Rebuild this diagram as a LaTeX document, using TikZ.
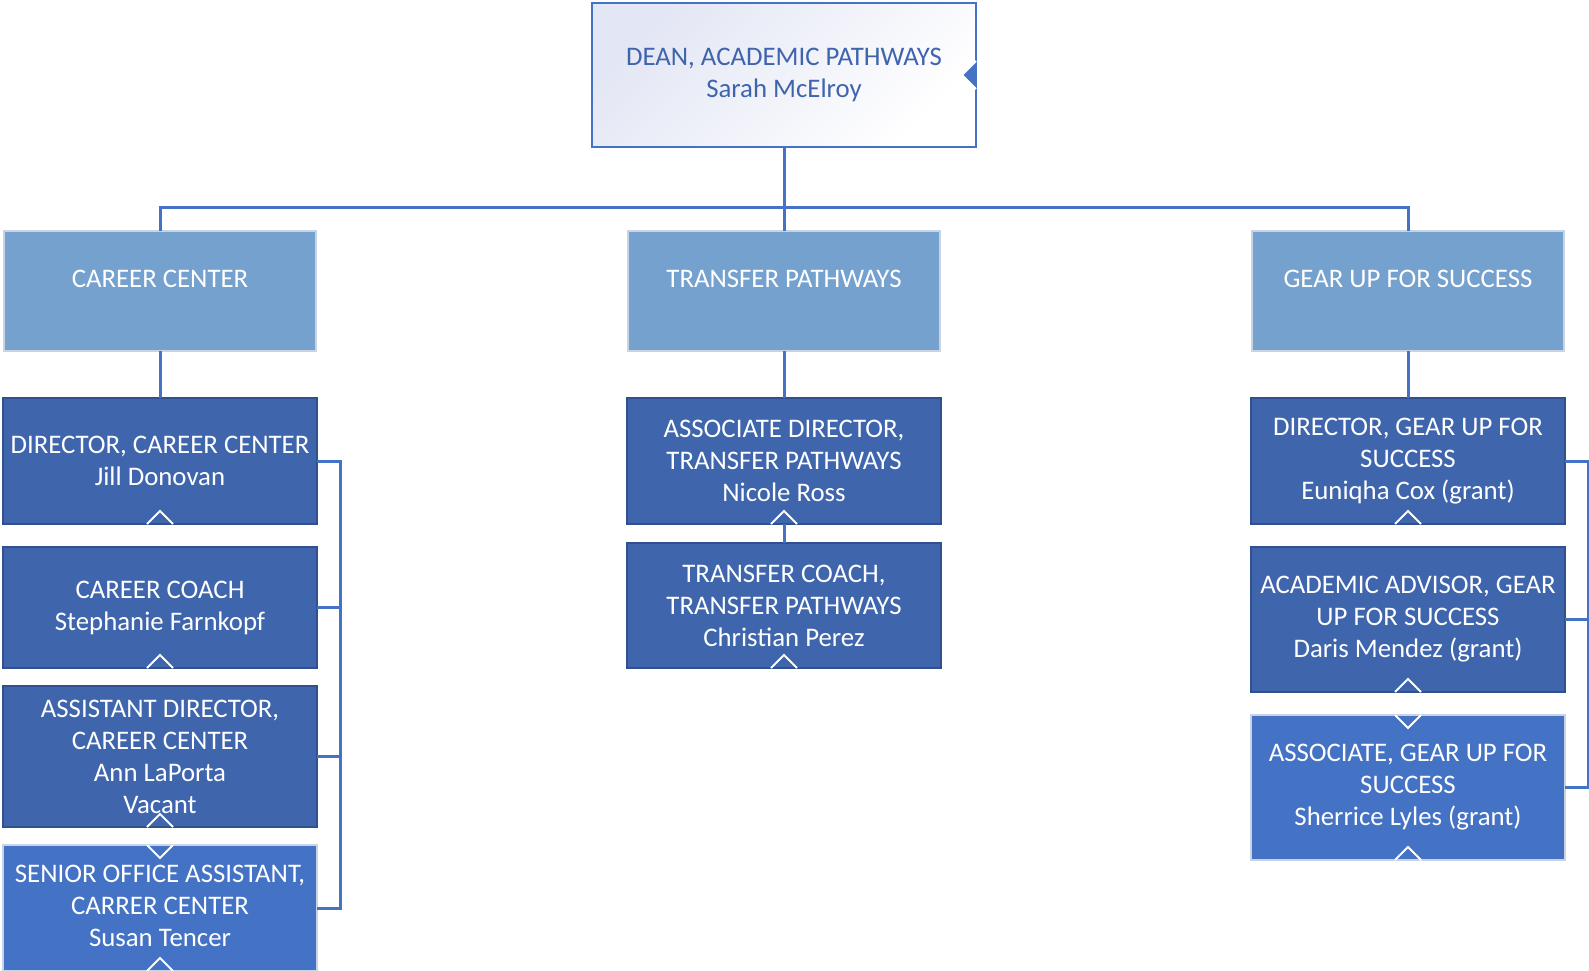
\documentclass[tikz,border=0pt]{standalone}
\usepackage{fontspec}
\setmainfont{Carlito}
\usepackage{xcolor}
\usepackage{tikz}
\usetikzlibrary{shapes,arrows,positioning}
\usetikzlibrary{calc}
\definecolor{linkblue}{HTML}{4472C4}
\definecolor{staffblue}{HTML}{3F65AD}
\definecolor{staffedge}{HTML}{2F528F}
\definecolor{headblue}{HTML}{75A1CE}
\definecolor{headedge}{HTML}{C9D3E3}
\definecolor{deanfill}{HTML}{E3E6F4}
\definecolor{deantext}{HTML}{3F64AE}
\tikzset{lift/.style={execute at end node={\rule[-#1]{0pt}{0pt}}}}
\tikzstyle{dean} = [rectangle, draw=linkblue, line width=1pt, top color=deanfill,
    bottom color=white, shading angle=45, text=deantext, align=center,
    minimum width=192pt, minimum height=72pt, outer sep=0pt]
\tikzstyle{head} = [rectangle, draw=headedge, line width=0.6pt, fill=headblue,
    text=white, align=center, minimum width=156pt, minimum height=60pt,
    outer sep=0pt, lift=12pt]
\tikzstyle{staff} = [rectangle, draw=staffedge, line width=0.6pt, fill=staffblue,
    text=white, align=center, minimum width=157pt, outer sep=0pt]
\tikzstyle{stafflight} = [staff, draw=headedge, fill=linkblue]
\tikzstyle{line} = [draw=linkblue, line width=1.5pt]
\tikzstyle{notch} = [draw=white, line width=1pt]

\begin{document}
\begin{tikzpicture}[font=\fontsize{13.4}{16}\selectfont]
        \useasboundingbox (0,0) rectangle (794.5pt,-485pt);
        % Dean and departments
        \node [dean] (dean) at (392pt,-37.5pt) {DEAN, ACADEMIC PATHWAYS\\Sarah McElroy};
        \node [head, below=42pt of dean] (tp) {TRANSFER PATHWAYS};
        \node [head, left=156pt of tp] (cc) {CAREER CENTER};
        \node [head, right=156pt of tp] (gu) {GEAR UP FOR SUCCESS};

        % Career center staff
        \node [staff, minimum height=63pt, below=23.5pt of cc] (dircc) {DIRECTOR, CAREER CENTER\\Jill Donovan};
        \node [staff, minimum height=60.5pt, below=11.5pt of dircc] (coach) {CAREER COACH\\Stephanie Farnkopf};
        \node [staff, minimum height=70.5pt, below=9pt of coach] (asst) {ASSISTANT DIRECTOR,\\CAREER CENTER\\Ann LaPorta\\Vacant};
        \node [stafflight, minimum height=63pt, below=9pt of asst, lift=2pt] (senior) {SENIOR OFFICE ASSISTANT,\\CARRER CENTER\\Susan Tencer};

        % Transfer pathways staff
        \node [staff, minimum height=63pt, below=23.5pt of tp] (assoc) {ASSOCIATE DIRECTOR,\\TRANSFER PATHWAYS\\Nicole Ross};
        \node [staff, minimum height=62.5pt, below=9.5pt of assoc] (tcoach) {TRANSFER COACH,\\TRANSFER PATHWAYS\\Christian Perez};

        % Gear up staff
        \node [staff, minimum height=63pt, below=23.5pt of gu] (dirgu) {DIRECTOR, GEAR UP FOR\\SUCCESS\\Euniqha Cox (grant)};
        \node [staff, minimum height=72.5pt, below=11.5pt of dirgu] (advisor) {ACADEMIC ADVISOR, GEAR\\UP FOR SUCCESS\\Daris Mendez (grant)};
        \node [stafflight, minimum height=72.5pt, below=11.5pt of advisor] (associate) {ASSOCIATE, GEAR UP FOR\\SUCCESS\\Sherrice Lyles (grant)};

        % Connections
        \path [line] (dean.south) -- (tp.north);
        \path [line] (dean.south) -- ++(0,-30pt) -| (cc.north);
        \path [line] (dean.south) -- ++(0,-30pt) -| (gu.north);
        \path [line] (cc.south) -- (dircc.north);
        \path [line] (tp.south) -- (assoc.north);
        \path [line] (gu.south) -- (dirgu.north);
        \path [line] (tcoach.north) -- (assoc.south);
        \path [line] (dircc.east) -- ++(11.5pt,0) |- (senior.east);
        \path [line] (coach.east) -- ++(11.5pt,0);
        \path [line] (asst.east) -- ++(11.5pt,0);
        \path [line] (dirgu.east) -- ++(11.5pt,0) |- (associate.east);
        \path [line] (advisor.east) -- ++(11.5pt,0);

        % Collapse markers
        \foreach \b in {dircc,coach,asst,senior,assoc,tcoach,dirgu,advisor,associate}
            \draw [notch] ([xshift=-6.5pt]\b.south) -- ([yshift=6.5pt]\b.south) -- ([xshift=6.5pt]\b.south);
        \foreach \b in {senior,associate}
            \draw [notch] ([xshift=-6.5pt]\b.north) -- ([yshift=-6.5pt]\b.north) -- ([xshift=6.5pt]\b.north);
        \filldraw [fill=linkblue, notch] ([yshift=7pt]dean.east) -- ([xshift=-7pt]dean.east) -- ([yshift=-7pt]dean.east);
    \end{tikzpicture}
\end{document}
